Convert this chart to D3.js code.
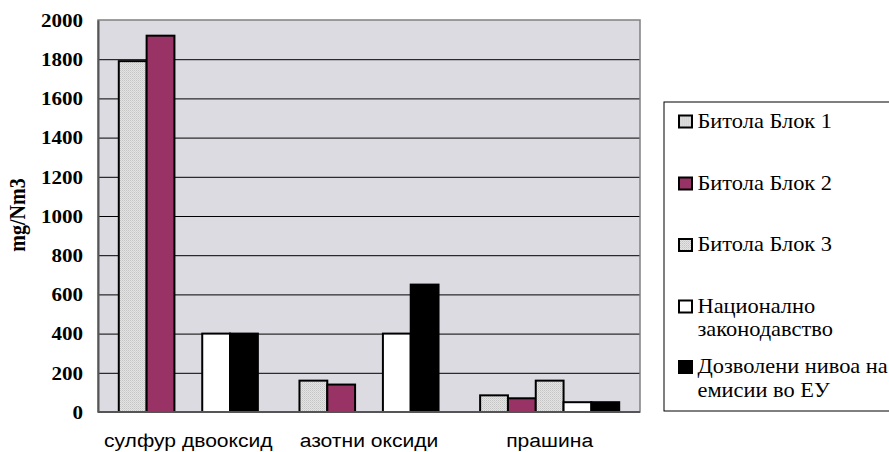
<!DOCTYPE html>
<html><head><meta charset="utf-8">
<script src="https://cdn.jsdelivr.net/npm/d3@7"></script>
<style>body{margin:0;background:#fff}svg{display:block}</style>
</head><body>
<svg id="c" width="889" height="452"></svg>
<script>
const categories = ["сулфур двооксид", "азотни оксиди", "прашина"];
const seriesNames = ["Битола Блок 1", "Битола Блок 2", "Битола Блок 3", "Национално законодавство", "Дозволени нивоа на емисии во ЕУ"];
const blok1 = [1790, 160, 85];
const blok2 = [1920, 140, 70];
const blok3 = [null, null, 160];
const nacionalno = [400, 400, 50];
const eu = [400, 650, 50];
const yTicks = [0, 200, 400, 600, 800, 1000, 1200, 1400, 1600, 1800, 2000];
const legendLines = [["Битола Блок 1"], ["Битола Блок 2"], ["Битола Блок 3"], ["Национално", "законодавство"], ["Дозволени нивоа на", "емисии во ЕУ"]];

const seriesValues = [blok1, blok2, blok3, nacionalno, eu];
const fills = ["url(#dots)", "#993366", "url(#dots)", "#ffffff", "#000000"];
const SX = 1.17;
const LSX = 1.12;
const serif = "'Liberation Serif', 'Times New Roman', serif";

const svg = d3.select("#c");
const defs = svg.append("defs");
const pat = defs.append("pattern").attr("id", "dots").attr("patternUnits", "userSpaceOnUse")
  .attr("width", 2).attr("height", 2);
pat.append("rect").attr("width", 2).attr("height", 2).attr("fill", "#e4e4e4");
pat.append("rect").attr("width", 1).attr("height", 1).attr("fill", "#c4c4c4");
pat.append("rect").attr("x", 1).attr("y", 1).attr("width", 1).attr("height", 1).attr("fill", "#d2d2d2");

const L = 98, R = 640, T = 20, B = 412;
const x0 = d3.scaleBand().domain(categories).range([L, R]).paddingInner(0).paddingOuter(0);
const x1 = d3.scaleBand().domain(d3.range(5)).range([20.8, x0.bandwidth() - 20.8]).paddingOuter(0).paddingInner(0);
const y = d3.scaleLinear().domain([0, 2000]).range([B, T]);

svg.append("rect").attr("x", L).attr("y", T).attr("width", R - L).attr("height", B - T)
  .attr("fill", "#dcdbe1");

svg.append("g").selectAll("line").data(yTicks.filter(d => d > 0 && d < 2000)).join("line")
  .attr("x1", L).attr("x2", R).attr("y1", d => y(d) + 0.5).attr("y2", d => y(d) + 0.5)
  .attr("stroke", "#000").attr("stroke-width", 1);

svg.append("rect").attr("x", L).attr("y", T).attr("width", R - L).attr("height", B - T)
  .attr("fill", "none").attr("stroke", "#808080").attr("stroke-width", 1.5);

const yAxis = d3.axisLeft(y).tickValues(yTicks).tickSize(0).tickFormat(d3.format("d"));
const ga = svg.append("g").attr("transform", `translate(${L},0)`).call(yAxis);
ga.select(".domain").attr("stroke", "#555").attr("stroke-width", 2);
ga.selectAll("text").attr("x", 0).attr("dy", "0.35em")
  .attr("transform", `translate(-15,0) scale(${SX},1)`)
  .attr("font-family", serif).attr("font-weight", "bold").attr("font-size", 18).attr("fill", "#000");

categories.forEach((cat, ci) => {
  seriesValues.forEach((vals, si) => {
    const v = vals[ci];
    if (v == null) return;
    svg.append("rect")
      .attr("x", x0(cat) + x1(si))
      .attr("y", y(v))
      .attr("width", x1.bandwidth())
      .attr("height", y(0) - y(v))
      .attr("fill", fills[si])
      .attr("stroke", "#000").attr("stroke-width", 2);
  });
});

svg.append("line").attr("x1", L).attr("x2", R).attr("y1", B).attr("y2", B)
  .attr("stroke", "#555").attr("stroke-width", 2);

const xAxis = d3.axisBottom(x0).tickSize(0);
const gx = svg.append("g").attr("transform", `translate(0,${B})`).call(xAxis);
gx.select(".domain").remove();
gx.selectAll("text").attr("y", 0).attr("dy", 0)
  .attr("transform", "translate(0,35) scale(1.11,1)")
  .attr("font-family", "'Liberation Sans', Arial, sans-serif")
  .attr("font-size", 19).attr("fill", "#000");

svg.append("text").attr("transform", `translate(25,215) scale(${SX},1) rotate(-90)`)
  .attr("text-anchor", "middle").attr("font-family", serif)
  .attr("font-weight", "bold").attr("font-size", 20).text("mg/Nm3");

svg.append("rect").attr("x", 664).attr("y", 102).attr("width", 240).attr("height", 309)
  .attr("fill", "#fff").attr("stroke", "#000").attr("stroke-width", 1);
const legY = [127.5, 189.5, 251, 312.5, 373];
legendLines.forEach((lines, i) => {
  const g = svg.append("g").attr("transform", `translate(0,${legY[i]})`);
  g.append("rect").attr("x", 679).attr("y", -12).attr("width", 13).attr("height", 12)
    .attr("fill", fills[i]).attr("stroke", "#000").attr("stroke-width", 2);
  lines.forEach((ln, j) => {
    g.append("text").attr("transform", `translate(697.5,${j * 23.5}) scale(${LSX},1)`)
      .attr("font-family", serif)
      .attr("font-size", 20).attr("fill", "#000").text(ln);
  });
});
</script>
</body></html>
